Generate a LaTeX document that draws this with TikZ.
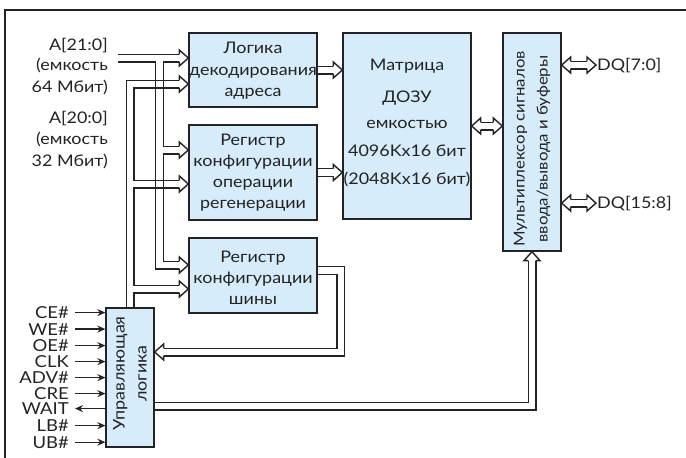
\documentclass[tikz,border=0pt]{standalone}
\usepackage{fontspec}
\setmainfont{Lato}[FakeStretch=1.12]
\usetikzlibrary{arrows.meta,calc}
\definecolor{boxfill}{RGB}{214,236,250}
\definecolor{ink}{RGB}{35,35,35}
\pgfdeclarelayer{bg}
\pgfsetlayers{bg,main}
\begin{document}
\begin{tikzpicture}[x=1pt,y=-1pt,
  box/.style={draw=ink, fill=boxfill, line width=1.3pt, inner sep=0pt},
  txt/.style={text=ink, font=\fontsize{16}{21}\selectfont, inner sep=0pt, anchor=base},
  lbl/.style={text=ink, font=\fontsize{16}{21}\selectfont, inner sep=0pt, anchor=base east},
  sigtxt/.style={text=ink, font=\fontsize{16.5}{16}\selectfont, inner sep=0pt, anchor=base east},
  busout/.style={draw=ink, line width=9pt, line join=miter, line cap=butt},
  busin/.style={draw=white, line width=6.2pt, line join=miter, line cap=butt},
  thin/.style={draw=ink, line width=1.4pt},
  sig/.style={draw=ink, line width=1.2pt, -{Stealth[length=8pt,width=7pt]}},
  hhead/.pic={\filldraw[fill=white, draw=ink, line width=1.4pt, line join=miter]
     (-9,3.8) -- (-9,8) -- (0,0) -- (-9,-8) -- (-9,-3.8);}
]
\useasboundingbox (0,0) rectangle (686,458);
% frame
\draw[thin] (5,458) -- (5,10) -- (686,10);

% boxes
\node[box, minimum width=128pt, minimum height=74pt] (logic) at (253,70) {};
\node[box, minimum width=128pt, minimum height=95pt] (regop) at (253,172.5) {};
\node[box, minimum width=128pt, minimum height=75pt] (regbus) at (253,275.5) {};
\node[box, minimum width=128pt, minimum height=186pt] (matrix) at (407,126) {};
\node[box, minimum width=58pt, minimum height=218pt] (mux) at (532,142) {};
\node[box, minimum width=48pt, minimum height=139pt] (ctrl) at (130,377.5) {};

% box texts
\node[txt] (l1) at (253,53) {Логика};
\node[txt] (l2) at (253,75) {декодирования};
\node[txt] (l3) at (253,96) {адреса};
\node[txt] (r1) at (253,145) {Регистр};
\node[txt] (r2) at (253,166) {конфигурации};
\node[txt] (r3) at (253,187) {операции};
\node[txt] (r4) at (253,208) {регенерации};
\node[txt] (b1) at (253,262) {Регистр};
\node[txt] (b2) at (253,283) {конфигурации};
\node[txt] (b3) at (253,304) {шины};
\node[txt] (m1) at (407,70) {Матрица};
\node[txt] (m2) at (407,102) {ДОЗУ};
\node[txt] (m3) at (407,128) {емкостью};
\node[txt] (m4) at (407,156) {4096Kx16 бит};
\node[txt] (m5) at (407,184) {(2048Kx16 бит)};
\node[text=ink, font=\fontsize{15}{23}\selectfont, inner sep=0pt, rotate=90, align=center] (muxt) at ([yshift=-7pt]mux.center) {Мультиплексор сигналов\\ввода/вывода и буферы};
\node[text=ink, font=\fontsize{16}{22}\selectfont, inner sep=0pt, rotate=90, align=center] (ctrlt) at ([yshift=4pt]ctrl.center) {Управляющая\\логика};

% left labels
\node[lbl] (a1) at (108,50) {A[21:0]};
\node[lbl] (a2) at (108,70) {(емкость};
\node[lbl] (a3) at (108,92) {64 Мбит)};
\node[lbl] (a4) at (108,123) {A[20:0]};
\node[lbl] (a5) at (108,144) {(емкость};
\node[lbl] (a6) at (108,166) {32 Мбит)};

% DQ labels
\node[txt, anchor=base west] (dq1) at (597,70) {DQ[7:0]};
\node[txt, anchor=base west] (dq2) at (597,208) {DQ[15:8]};

% signals
\node[sigtxt] (sCE) at (69,318.5) {CE\#};
\node[sigtxt] (sWE) at (69,335) {WE\#};
\node[sigtxt] (sOE) at (69,351.5) {OE\#};
\node[sigtxt] (sCLK) at (69,367.5) {CLK};
\node[sigtxt] (sADV) at (69,383.5) {ADV\#};
\node[sigtxt] (sCRE) at (69,399.5) {CRE};
\node[sigtxt] (sWAIT) at (69,414.5) {WAIT};
\node[sigtxt] (sLB) at (69,431.5) {LB\#};
\node[sigtxt] (sUB) at (69,448) {UB\#};
\foreach \s in {sCE,sWE,sOE,sCLK,sADV,sCRE,sLB,sUB}
  \draw[sig] ([xshift=6pt]\s.east) -- (\s.east-|ctrl.west);
\draw[sig] (sWAIT.east-|ctrl.west) -- ([xshift=6pt]sWAIT.east);

% bus coordinates
\path (0,58) coordinate (yA1) (0,84) coordinate (yC1) (0,150) coordinate (yA2)
      (0,184) coordinate (yC2) (0,265) coordinate (yA3) (0,289) coordinate (yC3)
      (0,352) coordinate (yRC) (0,406) coordinate (yCM);
\coordinate (aIn) at (118,58);
\coordinate (aV) at (159.5,58);

\newcommand\allbuses[1]{%
  \draw[#1] (aIn) -- ($(logic.west|-yA1)-(8,0)$);
  \draw[#1] (aV) -- (aV|-yA3) -- ($(regbus.west|-yA3)-(8,0)$);
  \draw[#1] (aV|-yA2) -- ($(regop.west|-yA2)-(8,0)$);
  \draw[#1] (ctrl.north) -- (ctrl.north|-yC1) -- ($(logic.west|-yC1)-(8,0)$);
  \draw[#1] (ctrl.north|-yC2) -- ($(regop.west|-yC2)-(8,0)$);
  \draw[#1] (ctrl.north|-yC3) -- ($(regbus.west|-yC3)-(8,0)$);
  \draw[#1] (logic.east) -- ($(matrix.west|-logic.east)-(8,0)$);
  \draw[#1] (regop.east) -- ($(matrix.west|-regop.east)-(8,0)$);
  \draw[#1] ($(matrix.east)+(8,0)$) -- ($(mux.west|-matrix.east)-(8,0)$);
  \draw[#1] ($(mux.east|-dq1.west)+(8,0)$) -- ($(dq1.west)-(10,0)$);
  \draw[#1] ($(mux.east|-dq2.west)+(8,0)$) -- ($(dq2.west)-(10,0)$);
  \draw[#1] ($(regbus.east)+(0,-5)$) -- ++(23,0) |- ($(ctrl.east|-yRC)+(8,0)$);
  \draw[#1] (ctrl.east|-yCM) -| ($(mux.south)+(0,8)$);
}
\newcommand\crossfix[1]{%
  \draw[thin] ($(#1)+(-3.8,-4.5)$) -- ++(0,9) ($(#1)+(3.8,-4.5)$) -- ++(0,9)
              ($(#1)+(-4.5,-3.8)$) -- ++(9,0) ($(#1)+(-4.5,3.8)$) -- ++(9,0);}

\begin{pgfonlayer}{bg}
  \allbuses{busout}
  \allbuses{busin}
  \crossfix{aV|-yC1}
  \crossfix{aV|-yC2}
\end{pgfonlayer}

% arrow heads
\pic at (logic.west|-yA1) {hhead};
\pic at (logic.west|-yC1) {hhead};
\pic at (regop.west|-yA2) {hhead};
\pic at (regop.west|-yC2) {hhead};
\pic at (regbus.west|-yA3) {hhead};
\pic at (regbus.west|-yC3) {hhead};
\pic at (matrix.west|-logic.east) {hhead};
\pic at (matrix.west|-regop.east) {hhead};
\pic at (mux.west|-matrix.east) {hhead};
\pic[rotate=180] at (matrix.east) {hhead};
\pic[rotate=180] at (mux.east|-dq1.west) {hhead};
\pic at ($(dq1.west)-(1,0)$) {hhead};
\pic[rotate=180] at (mux.east|-dq2.west) {hhead};
\pic at ($(dq2.west)-(1,0)$) {hhead};
\pic[rotate=180] at (ctrl.east|-yRC) {hhead};
\pic[rotate=90] at (mux.south) {hhead};
\end{tikzpicture}
\end{document}
